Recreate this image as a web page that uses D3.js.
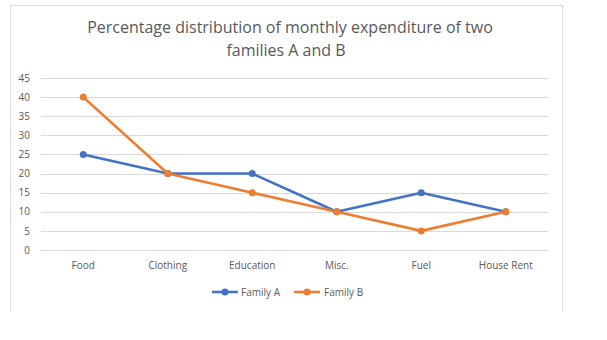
<!DOCTYPE html>
<html>
<head>
<meta charset="utf-8">
<script src="https://cdn.jsdelivr.net/npm/d3@7/dist/d3.min.js"></script>
<style>
  html, body { margin: 0; padding: 0; background: #fff; }
  svg { display: block; }
  text { font-family: "Open Sans", "Liberation Sans", sans-serif; fill: #595959; }
</style>
</head>
<body>
<svg id="chart" width="607" height="340"></svg>
<script>
// Monthly expenditure shares (%) per category
const categories = ["Food", "Clothing", "Education", "Misc.", "Fuel", "House Rent"];
const familyA = [25, 20, 20, 10, 15, 10];
const familyB = [40, 20, 15, 10, 5, 10];
const seriesNames = ["Family A", "Family B"];
const yTicks = [0, 5, 10, 15, 20, 25, 30, 35, 40, 45];

const colors = ["#4472C4", "#ED7D31"];
const svg = d3.select("#chart");

// chart frame (open at the bottom)
svg.append("path")
  .attr("d", "M10.5,312 V5.5 H562.5 V312")
  .attr("fill", "none")
  .attr("stroke", "#d9d9d9")
  .attr("stroke-width", 1);

const plot = { left: 41, right: 548, top: 78, bottom: 250 };

const x = d3.scaleBand().domain(categories).range([plot.left, plot.right]);
const y = d3.scaleLinear().domain([0, 45]).range([plot.bottom, plot.top]);

// horizontal gridlines
svg.append("g")
  .selectAll("line")
  .data(yTicks)
  .join("line")
  .attr("x1", plot.left).attr("x2", plot.right)
  .attr("y1", d => Math.round(y(d)) + 0.5)
  .attr("y2", d => Math.round(y(d)) + 0.5)
  .attr("stroke", "#d9d9d9")
  .attr("stroke-width", 1);

// y axis labels
const yAxis = d3.axisLeft(y).tickValues(yTicks).tickSize(0).tickPadding(0);
const gy = svg.append("g").attr("transform", `translate(30,0)`).call(yAxis);
gy.select(".domain").remove();
gy.selectAll("text").attr("font-size", 10).attr("fill", "#595959")
  .style("font-family", "'Open Sans', 'Liberation Sans', sans-serif");

// x axis labels
const xAxis = d3.axisBottom(x).tickSize(0).tickPadding(0);
const gx = svg.append("g").attr("transform", `translate(0,262)`).call(xAxis);
gx.select(".domain").remove();
gx.selectAll("text").attr("font-size", 10).attr("fill", "#595959")
  .style("font-family", "'Open Sans', 'Liberation Sans', sans-serif");

// series lines and markers
const series = [familyA, familyB];
const line = d3.line()
  .x((d, i) => x(categories[i]) + x.bandwidth() / 2)
  .y(d => y(d));

series.forEach((vals, s) => {
  const g = svg.append("g");
  g.append("path")
    .datum(vals)
    .attr("d", line)
    .attr("fill", "none")
    .attr("stroke", colors[s])
    .attr("stroke-width", 2.6)
    .attr("stroke-linejoin", "round");
  g.selectAll("circle")
    .data(vals)
    .join("circle")
    .attr("cx", (d, i) => x(categories[i]) + x.bandwidth() / 2)
    .attr("cy", d => y(d))
    .attr("r", 3.5)
    .attr("fill", colors[s]);
});

// title
const title = svg.append("text")
  .attr("text-anchor", "middle")
  .attr("font-size", 16)
  .attr("fill", "#595959");
title.append("tspan").attr("x", 290).attr("y", 33)
  .text("Percentage distribution of monthly expenditure of two");
title.append("tspan").attr("x", 286).attr("y", 56)
  .text("families A and B");

// legend
const legendItems = [{ x: 212, tx: 241 }, { x: 294, tx: 324 }];
legendItems.forEach((it, i) => {
  const g = svg.append("g");
  g.append("line")
    .attr("x1", it.x).attr("x2", it.x + 26)
    .attr("y1", 292).attr("y2", 292)
    .attr("stroke", colors[i]).attr("stroke-width", 2.6);
  g.append("circle")
    .attr("cx", it.x + 13).attr("cy", 292).attr("r", 3.5)
    .attr("fill", colors[i]);
  g.append("text")
    .attr("x", it.tx).attr("y", 295.5)
    .attr("font-size", 10)
    .text(seriesNames[i]);
});
</script>
</body>
</html>
